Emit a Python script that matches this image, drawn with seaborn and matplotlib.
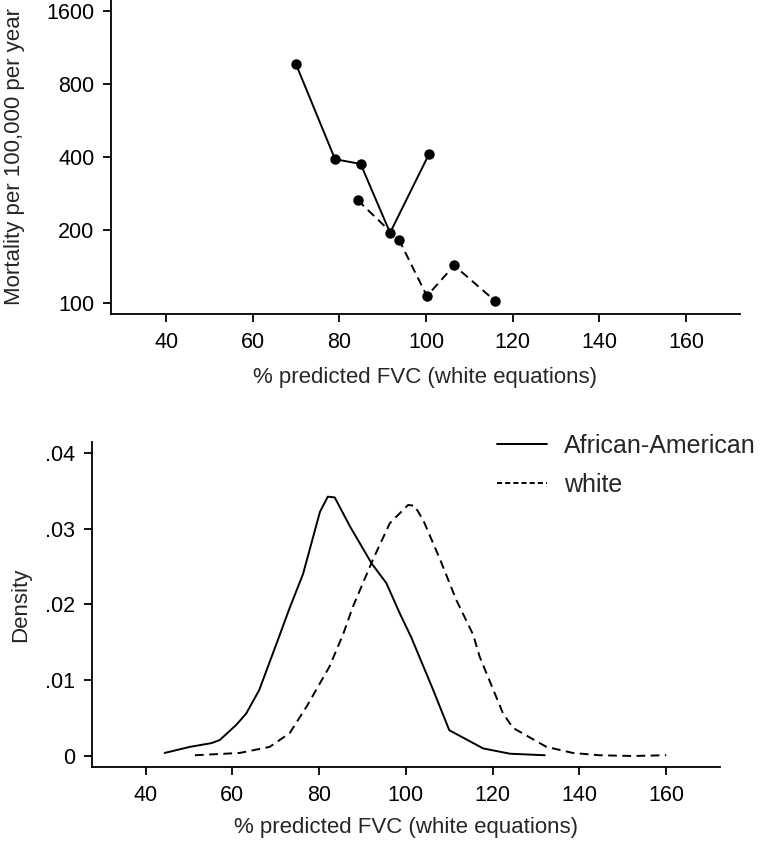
import matplotlib
matplotlib.use("Agg")
import matplotlib.pyplot as plt
import pandas as pd
import seaborn as sns
from matplotlib.ticker import NullLocator

# top panel: mortality by % predicted FVC category
aa_fvc = [70.0, 79.0, 84.9, 91.7, 100.7]
aa_mort = [964, 392, 375, 195, 412]
wh_fvc = [84.2, 93.8, 100.2, 106.5, 116.0]
wh_mort = [266, 182, 107, 143, 102]

# bottom panel: kernel density of % predicted FVC
aa_x = [44.4, 50.2, 55.2, 57.1, 60.9, 63.2, 66.2, 70.5, 73.2, 76.3, 80.2, 82.0,
        83.6, 87.1, 92.1, 95.5, 98.6, 101.2, 106.3, 110.0, 117.8, 124.0, 132.0]
aa_dens = [.0004, .0012, .0017, .0021, .0041, .0056, .0087, .0153, .0195, .0240, .0322, .0342,
           .0341, .0303, .0254, .0228, .0188, .0157, .0087, .0034, .0010, .0003, .0001]
wh_x = [51.4, 61.7, 68.6, 73.2, 77.1, 82.4, 85.5, 87.8, 92.4, 96.3, 100.5, 102.0, 104.0,
        107.9, 111.6, 115.5, 117.0, 122.4, 124.7, 132.4, 138.5, 144.6, 152.3, 160.0]
wh_dens = [.0001, .0004, .0012, .0030, .0065, .0118, .0160, .0197, .0259, .0307, .0331, .0330, .0311,
           .0259, .0206, .0160, .0131, .0056, .0037, .0012, .0004, .0001, .0000, .0001]

groups = ["African-American", "white"]
mort_ticks = [100, 200, 400, 800, 1600]
dens_ticks = [0, .01, .02, .03, .04]
dens_labels = ["0", ".01", ".02", ".03", ".04"]
x_ticks = [40, 60, 80, 100, 120, 140, 160]
xlabel = "% predicted FVC (white equations)"

sns.set_style("ticks")
plt.rcParams["font.family"] = ["Liberation Sans", "DejaVu Sans"]
plt.rcParams["axes.linewidth"] = 1.3
plt.rcParams["xtick.major.width"] = 1.3
plt.rcParams["ytick.major.width"] = 1.3
plt.rcParams["xtick.major.size"] = 5.8
plt.rcParams["ytick.major.size"] = 5.8
plt.rcParams["xtick.major.pad"] = 7
plt.rcParams["ytick.major.pad"] = 6
plt.rcParams["xtick.labelsize"] = 15.5
plt.rcParams["ytick.labelsize"] = 15.5
plt.rcParams["axes.labelsize"] = 16
plt.rcParams["axes.edgecolor"] = "black"
plt.rcParams["xtick.color"] = "black"
plt.rcParams["ytick.color"] = "black"

top = pd.DataFrame({
    "fvc": aa_fvc + wh_fvc,
    "mort": aa_mort + wh_mort,
    "group": [groups[0]] * len(aa_fvc) + [groups[1]] * len(wh_fvc),
})
bottom = pd.DataFrame({
    "fvc": aa_x + wh_x,
    "dens": aa_dens + wh_dens,
    "group": [groups[0]] * len(aa_x) + [groups[1]] * len(wh_x),
})

dash_map = {groups[0]: "", groups[1]: (4.5, 2.8)}

fig = plt.figure(figsize=(7.6, 8.41), dpi=100)
ax1 = fig.add_axes([0.1457, 0.6263, 0.828, 0.376])
ax2 = fig.add_axes([0.1207, 0.088, 0.8267, 0.3868])

sns.lineplot(data=top, x="fvc", y="mort", style="group", dashes=dash_map,
             markers={groups[0]: "o", groups[1]: "o"}, markersize=7.5,
             markeredgewidth=0, color="black", linewidth=1.4, legend=False,
             sort=False, ax=ax1)
ax1.set_yscale("log")
ax1.set_ylim(90, 1810)
ax1.set_yticks(mort_ticks)
ax1.set_yticklabels([str(t) for t in mort_ticks])
ax1.yaxis.set_minor_locator(NullLocator())
ax1.set_xlim(27.2, 172.5)
ax1.set_xticks(x_ticks)
ax1.set_xlabel(xlabel, labelpad=10)
ax1.set_ylabel("Mortality per 100,000 per year", labelpad=15)

sns.lineplot(data=bottom, x="fvc", y="dens", style="group", dashes=dash_map,
             color="black", linewidth=1.4, sort=False, ax=ax2)
ax2.set_xlim(27.6, 172.4)
ax2.set_ylim(-0.00145, 0.04145)
ax2.set_xticks(x_ticks)
ax2.set_yticks(dens_ticks)
ax2.set_yticklabels(dens_labels)
ax2.set_xlabel(xlabel, labelpad=8)
ax2.set_ylabel("Density", labelpad=10)

handles, labels = ax2.get_legend_handles_labels()
leg = ax2.legend(handles, labels, loc="upper left", bbox_to_anchor=(0.654, 0.484),
                 bbox_transform=fig.transFigure, frameon=False, fontsize=18,
                 handlelength=2.0, handletextpad=0.68, borderpad=0, borderaxespad=0,
                 labelspacing=0.61)
leg.get_lines()[1].set_dashes((2.6, 1.6))

sns.despine(fig=fig)
fig.savefig("out.png", dpi=100)
